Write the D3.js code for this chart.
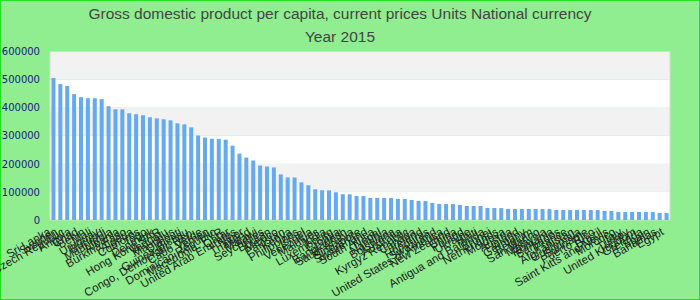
<!DOCTYPE html>
<html>
<head>
<meta charset="utf-8">
<script src="https://cdn.jsdelivr.net/npm/d3@7/dist/d3.min.js"></script>
<style>
  html, body { margin: 0; padding: 0; background: #90ee90; }
  #chart svg { display: block; }
</style>
</head>
<body>
<div id="chart"></div>
<script>
const titleLines = ['Gross domestic product per capita, current prices Units National currency', 'Year 2015'];

const countries = [
  'Sri Lanka', 'Sweden', 'Czech Republic', 'Angola', 'Chad', 'Benin', 'Mali', 'Uruguay',
  'Burundi', 'Mauritania', 'Albania', 'Burkina Faso', 'Algeria', 'Comoros', 'Togo',
  'Denmark', 'Hong Kong SAR', 'Vanuatu', 'Mauritius', 'Djibouti', 'Guinea-Bissau',
  'Congo, Democratic Rep.', 'Cabo Verde', 'Yemen', 'Dominican Republic', 'Macedonia, FYR', 'Qatar',
  'United Arab Emirates', 'Niger', 'Thailand', 'Malawi', 'Seychelles', 'Bhutan',
  'Mexico', 'Pakistan', 'Kenya', 'Philippines', 'Israel', 'Venezuela', 'Maldives',
  'India', 'Luxembourg', 'Croatia', 'Bangladesh', 'Saudi Arabia', 'Singapore',
  'Switzerland', 'South Africa', 'Nepal', 'Namibia', 'Botswana', 'Australia',
  'Kyrgyz Republic', 'Canada', 'Ireland', 'Honduras', 'Swaziland',
  'United States of America', 'New Zealand', 'China', 'Poland', 'Ukraine', 'Haiti',
  'Antigua and Barbuda', 'Brunei', 'Netherlands', 'Moldova', 'Austria', 'Finland',
  'Germany', 'Belgium', 'San Marino', 'Malaysia', 'Romania', 'Barbados', 'France',
  'Afghanistan', 'Guatemala', 'Suriname', 'Puerto Rico', 'Brazil', 'Saint Kitts and Nevis',
  'Morocco', 'Italy', 'Turkey', 'United Kingdom', 'Grenada', 'Spain', 'Bahamas', 'Egypt'
];

const values = [
  505600, 484000, 476900, 448200, 437400, 433900, 433500, 430300,
  405200, 394400, 394000, 380100, 376500, 372900,
  365700, 362100, 358600, 355000, 344200, 340600, 329900,
  301000, 293500, 289400, 289000, 285900, 264700,
  236500, 222400, 211800, 194100, 190600, 187100,
  162400, 151800, 151500, 134100, 123500, 109400, 105900,
  105600, 98800, 91800, 91500, 85500, 85200, 78900,
  78600, 78400, 78200, 75000, 74800, 71400, 67800,
  67500, 60700, 57100, 56900, 56700, 53600,
  50000, 49800, 49600, 42800, 42600, 42400, 39500,
  39300, 39200, 39100, 39000, 38900, 38800, 35900,
  35800, 35700, 35600, 35500, 35400, 35300,
  32100, 31900, 28800, 28700, 28600, 28500, 28400,
  28300, 25100, 25000
];

const yTicks = [0, 100000, 200000, 300000, 400000, 500000, 600000];

const w = 700;
const h = 300;
const plotLeft = 50;
const plotRight = 670;
const plotTop = 51.5;
const plotBottom = 220;

const svg = d3.select('#chart')
  .append('svg')
  .attr('width', w)
  .attr('height', h);

// outer frame
svg.append('rect')
  .attr('x', 0.5)
  .attr('y', 0.5)
  .attr('width', w - 1)
  .attr('height', h - 1)
  .attr('fill', '#90ee90')
  .attr('stroke', '#22e022');

const xScale = d3.scaleBand()
  .domain(countries)
  .range([plotLeft, plotRight])
  .paddingInner(0.42)
  .paddingOuter(0.21);

const yScale = d3.scaleLinear()
  .domain([0, 600000])
  .range([plotBottom, plotTop]);

// alternating bands
svg.selectAll('rect.band')
  .data(yTicks.slice(0, -1))
  .enter()
  .append('rect')
  .attr('class', 'band')
  .attr('x', plotLeft)
  .attr('y', (d) => yScale(d + 100000))
  .attr('width', plotRight - plotLeft)
  .attr('height', (d) => yScale(d) - yScale(d + 100000))
  .attr('fill', (d, i) => i % 2 ? '#f2f2f2' : '#ffffff');

svg.append('rect')
  .attr('x', plotLeft)
  .attr('y', plotTop)
  .attr('width', plotRight - plotLeft)
  .attr('height', plotBottom - plotTop)
  .attr('fill', 'none')
  .attr('stroke', '#d9d9d9');

svg.selectAll('rect.bar')
  .data(values)
  .enter()
  .append('rect')
  .attr('class', 'bar')
  .attr('x', (d, i) => xScale(countries[i]))
  .attr('y', (d) => yScale(d))
  .attr('width', xScale.bandwidth())
  .attr('height', (d) => plotBottom - yScale(d))
  .attr('fill', '#64aaf0');

const yAxis = d3.axisLeft(yScale)
  .tickValues(yTicks)
  .tickFormat(d3.format('d'))
  .tickSize(0)
  .tickPadding(10);

svg.append('g')
  .attr('transform', 'translate(' + plotLeft + ',0)')
  .call(yAxis)
  .call((g) => g.select('.domain').remove())
  .selectAll('text')
  .attr('fill', '#1a1a80')
  .style('font-family', '"DejaVu Sans", sans-serif')
  .style('font-size', '10px');

const xAxis = d3.axisBottom(xScale).tickSize(0);

svg.append('g')
  .attr('transform', 'translate(0,' + plotBottom + ')')
  .call(xAxis)
  .call((g) => g.select('.domain').remove())
  .selectAll('text')
  .attr('x', 0)
  .attr('y', 0)
  .attr('dy', 0)
  .attr('fill', '#222')
  .style('text-anchor', 'end')
  .style('font-family', '"Liberation Sans", Arial, sans-serif')
  .style('font-size', '11.5px')
  .attr('transform', 'translate(-2,14) rotate(-30)');

svg.selectAll('text.title')
  .data(titleLines)
  .enter()
  .append('text')
  .attr('class', 'title')
  .attr('x', 340)
  .attr('y', (d, i) => 19 + i * 23)
  .attr('text-anchor', 'middle')
  .attr('fill', '#444')
  .style('font-family', '"Liberation Sans", Arial, sans-serif')
  .style('font-size', '15.5px')
  .text((d) => d);
</script>
</body>
</html>
